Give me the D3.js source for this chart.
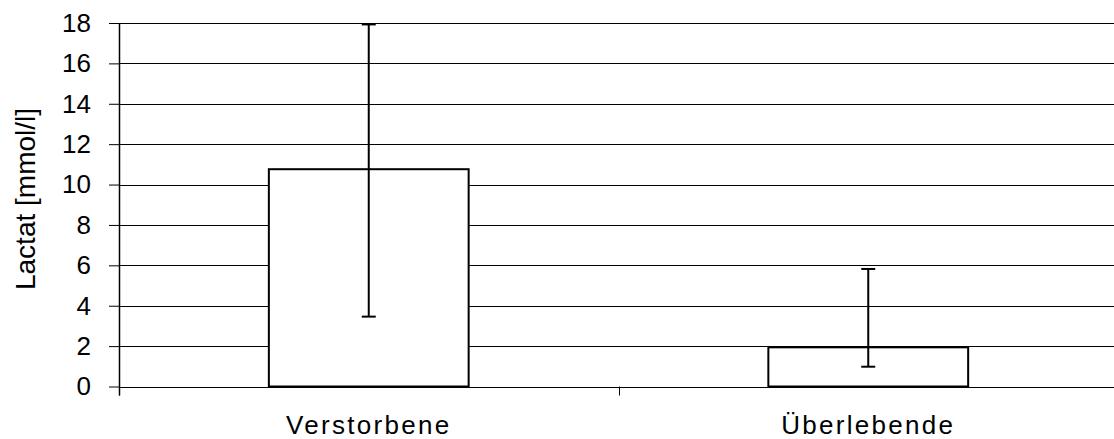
<!DOCTYPE html>
<html>
<head>
<meta charset="utf-8">
<script src="https://cdn.jsdelivr.net/npm/d3@7"></script>
<style>
  body { margin: 0; background: #fff; }
  text { font-family: "Liberation Sans", Arial, sans-serif; fill: #000; }
</style>
</head>
<body>
<div id="chart"></div>
<script>
// Chart data
const categories = ["Verstorbene", "Überlebende"];
const means = [10.76, 1.94];
const errLow = [3.46, 0.98];
const errHigh = [17.93, 5.82];
const yTicks = [0, 2, 4, 6, 8, 10, 12, 14, 16, 18];
const yTitle = "Lactat [mmol/l]";

const width = 1114, height = 439;
const margin = { top: 23, right: -4, bottom: 52.5, left: 119 };
const plotW = width - margin.left - margin.right;
const plotH = height - margin.top - margin.bottom;

const svg = d3.select("#chart").append("svg")
  .attr("width", width)
  .attr("height", height);

const g = svg.append("g")
  .attr("transform", `translate(${margin.left},${margin.top})`);

const x = d3.scaleBand()
  .domain(categories)
  .range([0, plotW])
  .paddingInner(0.6)
  .paddingOuter(0.3);

const y = d3.scaleLinear()
  .domain([0, 18])
  .range([plotH, 0]);

// Gridlines
g.append("g")
  .selectAll("line")
  .data(yTicks)
  .enter()
  .append("line")
  .attr("x1", 0)
  .attr("x2", plotW)
  .attr("y1", d => Math.round(y(d)) + 0.5)
  .attr("y2", d => Math.round(y(d)) + 0.5)
  .attr("stroke", "#000")
  .attr("stroke-width", 1);

// Y axis
const yAxis = g.append("g")
  .call(d3.axisLeft(y).tickValues(yTicks).tickSize(10).tickPadding(18).tickSizeOuter(0));
yAxis.select(".domain").remove();
yAxis.selectAll(".tick line").attr("stroke", "#000");
yAxis.selectAll("text")
  .style("font-size", "26px")
  .style("font-family", "'Liberation Sans', Arial, sans-serif");
g.append("line")
  .attr("x1", 0.5).attr("x2", 0.5)
  .attr("y1", 0).attr("y2", plotH + 9)
  .attr("stroke", "#000")
  .attr("stroke-width", 1.5);

// X axis category ticks (band boundaries)
const step = x.step();
g.append("g")
  .selectAll("line")
  .data(d3.range(categories.length + 1))
  .enter()
  .append("line")
  .attr("x1", i => Math.round(i * step) + 0.5)
  .attr("x2", i => Math.round(i * step) + 0.5)
  .attr("y1", plotH)
  .attr("y2", plotH + 9)
  .attr("stroke", "#000");

g.selectAll("text.xlabel")
  .data(categories)
  .enter()
  .append("text")
  .attr("class", "xlabel")
  .attr("x", d => x(d) + x.bandwidth() / 2)
  .attr("y", plotH + 47.5)
  .attr("text-anchor", "middle")
  .style("font-size", "26px")
  .style("letter-spacing", "2.3px")
  .text(d => d);

// Bars
g.selectAll("rect.bar")
  .data(categories)
  .enter()
  .append("rect")
  .attr("class", "bar")
  .attr("x", d => x(d))
  .attr("y", (d, i) => y(means[i]))
  .attr("width", x.bandwidth())
  .attr("height", (d, i) => plotH - y(means[i]))
  .attr("fill", "#fff")
  .attr("stroke", "#000")
  .attr("stroke-width", 2);

// Error bars
const eb = g.selectAll("g.err")
  .data(categories)
  .enter()
  .append("g")
  .attr("class", "err")
  .attr("transform", d => `translate(${x(d) + x.bandwidth() / 2},0)`);
eb.append("line")
  .attr("y1", (d, i) => y(errLow[i]))
  .attr("y2", (d, i) => y(errHigh[i]))
  .attr("stroke", "#000").attr("stroke-width", 2);
eb.append("line")
  .attr("x1", -7).attr("x2", 7)
  .attr("y1", (d, i) => y(errLow[i]))
  .attr("y2", (d, i) => y(errLow[i]))
  .attr("stroke", "#000").attr("stroke-width", 2);
eb.append("line")
  .attr("x1", -7).attr("x2", 7)
  .attr("y1", (d, i) => y(errHigh[i]))
  .attr("y2", (d, i) => y(errHigh[i]))
  .attr("stroke", "#000").attr("stroke-width", 2);

// Y title
svg.append("text")
  .attr("transform", `translate(35,199) rotate(-90)`)
  .attr("text-anchor", "middle")
  .style("font-size", "28px")
  .text(yTitle);
</script>
</body>
</html>
